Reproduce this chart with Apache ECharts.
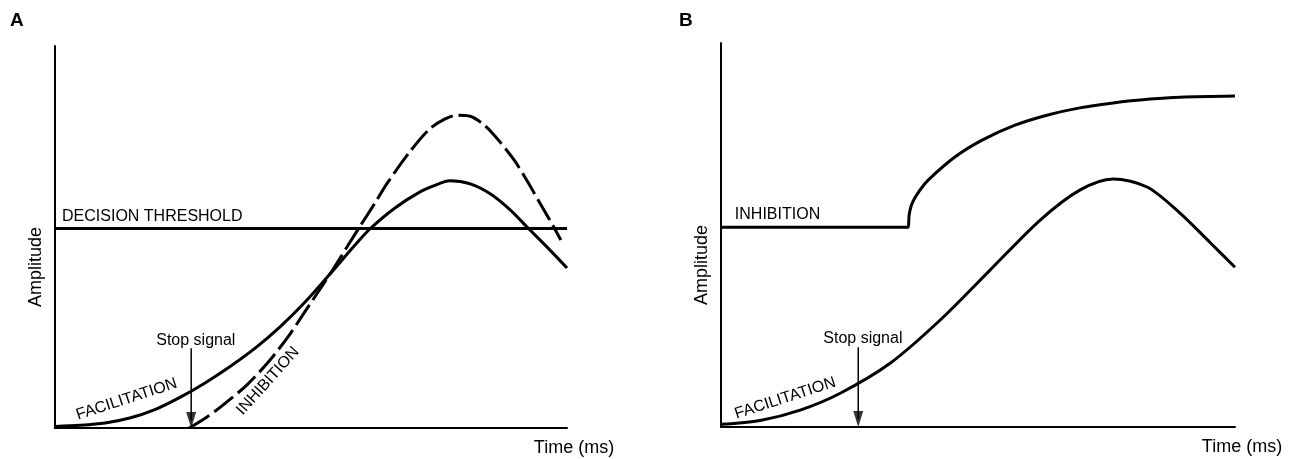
<!DOCTYPE html>
<html>
<head>
<meta charset="utf-8">
<script src="https://cdn.jsdelivr.net/npm/echarts@6/dist/echarts.min.js"></script>
<style>
  html, body { margin: 0; padding: 0; background: #fff; }
  #main { width: 1302px; height: 459px; }
</style>
</head>
<body>
<div id="main"></div>
<script>
// 面板A：易化曲线（实线）
const facA = [[0, 0.4], [4.9, 0.7], [9.8, 1.3], [14.6, 2.6], [19.5, 4.8], [24.4, 8.0], [29.3, 11.8],
  [34.2, 16.1], [39.1, 20.9], [43.9, 26.4], [48.8, 32.9], [53.7, 40.3], [58.6, 47.9], [61.5, 52.1],
  [66.4, 57.6], [71.3, 61.8], [74.2, 63.5], [77.1, 64.7], [81.1, 63.9], [85.0, 61.3], [88.9, 57.1],
  [92.2, 52.6], [96.3, 47.1], [100, 41.9]]
// 面板A：抑制曲线（虚线）
const inhA = [[26.2, 0], [29.7, 2.9], [32.8, 6.0], [37.5, 11.3], [42.0, 17.8], [45.9, 24.6], [48.4, 29.6],
  [53.7, 40.3], [59.0, 51.6], [62.5, 58.9], [64.8, 63.9], [69.3, 72.3], [73.2, 78.3], [76.2, 80.9],
  [78.5, 81.9], [81.1, 81.6], [84.0, 79.1], [86.9, 74.9], [89.8, 69.9], [92.2, 64.7], [94.7, 58.9],
  [97.3, 52.9], [98.8, 49.2]]
// 决策阈值
const thresholdA = 52.2
// 停止信号（x位置, 箭头起点高度）
const stopA = [26.6, 20.9]

// 面板B：易化曲线
const facB = [[0, 0.7], [7.6, 1.7], [15.4, 4.4], [23.2, 8.8], [32.9, 16.6], [42.6, 27.8], [52.3, 40.8],
  [62.1, 53.9], [69.8, 61.7], [76.3, 64.6], [82.9, 62.5], [89.3, 55.7], [95.1, 48.1], [100, 41.6]]
// 面板B：抑制曲线
const inhB = [[0, 52.0], [36.4, 52.0], [36.6, 55.2], [37.2, 58.3], [38.7, 61.7], [40.3, 64.3], [45.5, 70.3],
  [50.8, 74.7], [57.2, 78.6], [63.4, 81.2], [69.8, 83.1], [76.3, 84.4], [83.5, 85.4], [89.3, 85.9], [100, 86.2]]
const stopB = [26.7, 20.8]

// 文字标注
const notesA = [
  { text: 'DECISION THRESHOLD', at: [19.0, 55.4], rot: 0 },
  { text: 'Stop signal', at: [27.5, 23.0], rot: 0 },
  { text: 'FACILITATION', at: [14.0, 7.5], rot: 18 },
  { text: 'INHIBITION', at: [41.6, 12.3], rot: 48 }
]
const notesB = [
  { text: 'INHIBITION', at: [11.0, 55.4], rot: 0 },
  { text: 'Stop signal', at: [27.6, 23.1], rot: 0 },
  { text: 'FACILITATION', at: [12.5, 7.5], rot: 18 }
]

const FONT = "'Liberation Sans', Arial, sans-serif"

function notePoints(notes) {
  return {
    symbolSize: 0,
    silent: true,
    itemStyle: { color: 'transparent' },
    data: notes.map(n => ({
      coord: n.at,
      label: {
        show: true, position: 'inside', formatter: n.text, rotate: n.rot,
        color: '#000', fontSize: 16, fontFamily: FONT
      }
    }))
  }
}

function axisX(gridIndex) {
  return {
    type: 'value', gridIndex: gridIndex, min: 0, max: 100,
    axisLine: { show: true, lineStyle: { color: '#000', width: 2 } },
    axisTick: { show: false }, axisLabel: { show: false }, splitLine: { show: false },
    name: 'Time (ms)', nameLocation: 'end', nameGap: 7,
    nameTextStyle: { color: '#000', fontSize: 18, fontFamily: FONT, align: 'center', verticalAlign: 'top', padding: [11, 0, 0, 0] }
  }
}
function axisY(gridIndex) {
  return {
    type: 'value', gridIndex: gridIndex, min: 0, max: 100,
    axisLine: { show: true, lineStyle: { color: '#000', width: 2 } },
    axisTick: { show: false }, axisLabel: { show: false }, splitLine: { show: false },
    name: 'Amplitude', nameLocation: 'middle', nameGap: 10,
    nameTextStyle: { color: '#000', fontSize: 18, fontFamily: FONT, padding: [0, 60, 0, 0] }
  }
}

function curve(idx, data, dashed) {
  return {
    type: 'line', xAxisIndex: idx, yAxisIndex: idx, data: data,
    smooth: 0.3, symbol: 'none', silent: true,
    lineStyle: { color: '#000', width: 3, type: dashed ? [24, 6] : 'solid', cap: 'butt' }
  }
}
function arrow(idx, stop) {
  return [{
    type: 'line', xAxisIndex: idx, yAxisIndex: idx, symbol: 'none', silent: true,
    data: [[stop[0], stop[1]], [stop[0], 2]],
    lineStyle: { color: '#000', width: 1.5 }
  }, {
    type: 'scatter', xAxisIndex: idx, yAxisIndex: idx, silent: true,
    data: [[stop[0], 2.1]],
    symbol: 'triangle', symbolRotate: 180, symbolSize: [10, 16],
    itemStyle: { color: '#000' }
  }]
}

const chart = echarts.init(document.getElementById('main'), null, { renderer: 'canvas' })

const facASeries = curve(0, facA, false)
facASeries.markPoint = notePoints(notesA)
const facBSeries = curve(1, facB, false)
facBSeries.markPoint = notePoints(notesB)

const option = {
  animation: false,
  backgroundColor: '#fff',
  title: [
    { text: 'A', left: 10, top: 11, padding: 0, textStyle: { fontSize: 19, fontWeight: 'bold', color: '#000', fontFamily: FONT } },
    { text: 'B', left: 679, top: 11, padding: 0, textStyle: { fontSize: 19, fontWeight: 'bold', color: '#000', fontFamily: FONT } }
  ],
  grid: [
    { left: 55, top: 46, width: 512, height: 382 },
    { left: 721, top: 43, width: 514, height: 384 }
  ],
  xAxis: [axisX(0), axisX(1)],
  yAxis: [axisY(0), axisY(1)],
  series: [
    facASeries,
    curve(0, inhA, true),
    {
      type: 'line', xAxisIndex: 0, yAxisIndex: 0, symbol: 'none', silent: true,
      data: [[0, thresholdA], [100, thresholdA]],
      lineStyle: { color: '#000', width: 3 }
    },
    ...arrow(0, stopA),
    facBSeries,
    curve(1, inhB, false),
    ...arrow(1, stopB)
  ]
}

chart.setOption(option)
</script>
</body>
</html>
